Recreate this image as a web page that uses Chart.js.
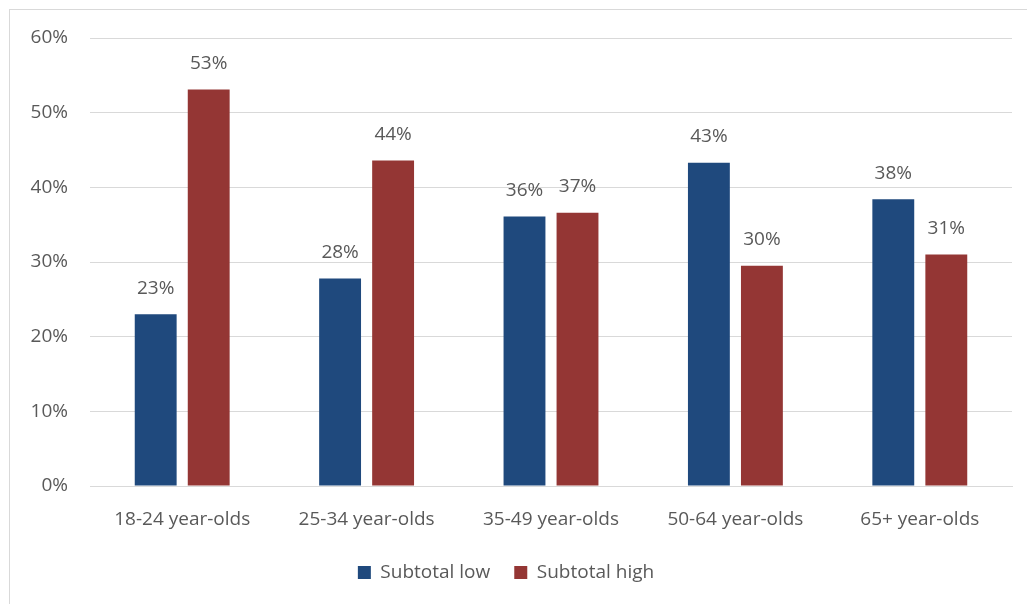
<!DOCTYPE html>
<html>
<head>
<meta charset="utf-8">
<script src="https://cdn.jsdelivr.net/npm/chart.js@4"></script>
<style>
  html, body { margin: 0; padding: 0; background: #fff; overflow: hidden; }
  #frame { position: absolute; left: 9px; top: 9px; width: 1040px; height: 620px; border: 1px solid #d9d9d9; box-sizing: border-box; }
  #wrap { position: absolute; left: 0; top: 0; width: 1027px; height: 604px; }
</style>
</head>
<body>
<div id="frame"></div>
<div id="wrap"><canvas id="c" width="1027" height="604"></canvas></div>
<script>
const categories = ['18-24 year-olds', '25-34 year-olds', '35-49 year-olds', '50-64 year-olds', '65+ year-olds'];
const subtotalLow = [23.0, 27.8, 36.1, 43.3, 38.4];
const subtotalHigh = [53.1, 43.6, 36.6, 29.5, 31.0];
const yTicks = [0, 10, 20, 30, 40, 50, 60];

const FONT = "'Open Sans', sans-serif";
const TEXT = '#595959';
const FS = 19;

const dataLabels = {
  id: 'dataLabels',
  afterDatasetsDraw(chart) {
    const ctx = chart.ctx;
    ctx.save();
    ctx.font = FS + 'px ' + FONT;
    ctx.fillStyle = TEXT;
    ctx.textAlign = 'center';
    ctx.textBaseline = 'middle';
    chart.data.datasets.forEach((ds, i) => {
      chart.getDatasetMeta(i).data.forEach((bar, j) => {
        ctx.fillText(Math.round(ds.data[j]) + '%', bar.x, bar.y - 26);
      });
    });
    ctx.restore();
  }
};

new Chart(document.getElementById('c'), {
  type: 'bar',
  data: {
    labels: categories,
    datasets: [
      { label: 'Subtotal low', data: subtotalLow, backgroundColor: '#1f497d', categoryPercentage: 0.575, barPercentage: 0.79 },
      { label: 'Subtotal high', data: subtotalHigh, backgroundColor: '#943634', categoryPercentage: 0.575, barPercentage: 0.79 }
    ]
  },
  options: {
    responsive: false,
    animation: false,
    layout: { padding: { left: 0, right: 15, top: 38, bottom: 12 } },
    plugins: {
      legend: {
        position: 'bottom',
        labels: { font: { family: FONT, size: FS }, color: TEXT, boxWidth: 13, boxHeight: 13, padding: 24, useBorderRadius: false }
      },
      tooltip: { enabled: false }
    },
    scales: {
      x: {
        grid: { display: false },
        border: { display: true, color: '#d9d9d9' },
        ticks: { font: { family: FONT, size: FS }, color: TEXT, padding: 14 },
        afterFit(s) { s.height = 53; }
      },
      y: {
        min: 0, max: 60,
        afterBuildTicks(s) { s.ticks = yTicks.map(v => ({ value: v })); },
        grid: { color: '#d9d9d9', drawTicks: false },
        border: { display: false },
        ticks: { font: { family: FONT, size: FS }, color: TEXT, padding: 22, callback: v => v + '%' },
        afterFit(s) { s.width = 90; }
      }
    }
  },
  plugins: [dataLabels]
});
</script>
</body>
</html>
